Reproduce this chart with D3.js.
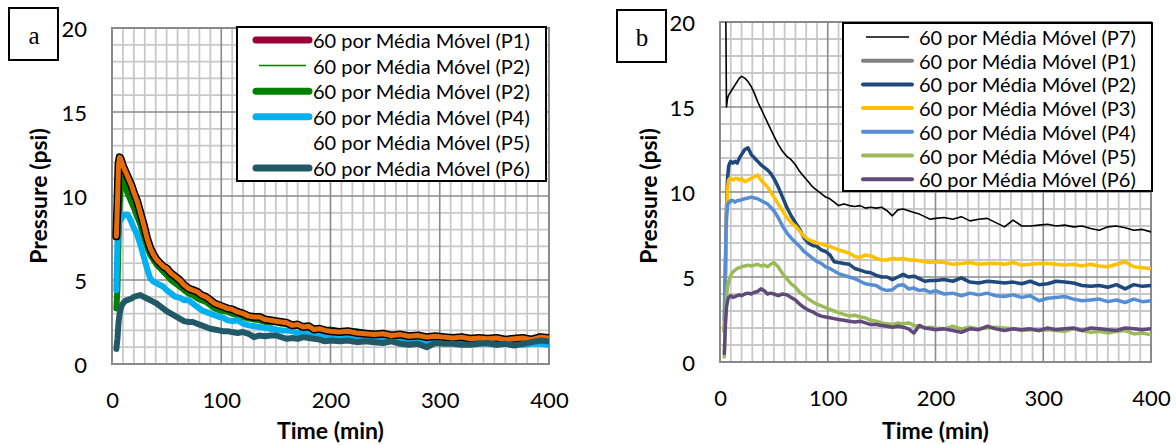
<!DOCTYPE html>
<html>
<head>
<meta charset="utf-8">
<script src="https://cdn.jsdelivr.net/npm/d3@7"></script>
<style>
  body { margin: 0; background: #fff; }
  svg { display: block; }
  text { font-family: Lato, "Open Sans", sans-serif; fill: #000; }
</style>
</head>
<body>
<svg id="chart" width="1176" height="445"></svg>
<script>
// ---- sampling times (min) ----
const timeMin = [4,5,6,7,8,9,10,12,14,16,18,20,23,26,29,32,35,38,41,44,47,50,54,58,62,66,70,74,78,82,86,90,94,98,
  102,106,110,115,120,125,130,135,140,145,150,155,160,165,170,175,180,185,190,195,200,
  208,216,224,232,240,248,256,264,272,280,288,296,304,312,320,328,336,344,352,360,368,376,384,392,400];

// ---- panel a: pressure (psi) ----
const aP5 = [7.6,9.6,11.9,12.3,12.2,12.0,11.8,11.5,11.2,10.9,10.6,10.2,9.7,9.0,8.3,7.5,6.9,6.5,6.2,6.0,5.8,5.7,5.4,5.2,5.0,4.7,4.5,4.4,4.3,4.1,4.0,3.8,3.6,3.5,
  3.4,3.3,3.25,3.1,3.0,2.85,2.8,2.8,2.65,2.6,2.55,2.5,2.45,2.3,2.35,2.2,2.25,2.05,2.1,2.0,1.95,
  1.9,1.95,1.85,1.8,1.75,1.8,1.7,1.75,1.65,1.7,1.6,1.65,1.6,1.55,1.6,1.5,1.55,1.5,1.55,1.45,1.5,1.55,1.45,1.6,1.55];
const aP1 = [7.5,9.5,11.8,12.2,12.1,11.9,11.7,11.4,11.1,10.8,10.5,10.1,9.6,8.9,8.2,7.4,6.8,6.4,6.1,5.9,5.7,5.6,5.3,5.1,4.9,4.6,4.4,4.3,4.2,4.0,3.9,3.7,3.5,3.4,
  3.3,3.2,3.2,3.05,2.95,2.8,2.75,2.75,2.6,2.55,2.5,2.45,2.4,2.25,2.3,2.15,2.2,2.0,2.05,1.95,1.9,
  1.85,1.9,1.8,1.75,1.7,1.75,1.65,1.7,1.6,1.65,1.55,1.6,1.55,1.5,1.55,1.45,1.5,1.45,1.5,1.4,1.45,1.5,1.4,1.55,1.5];
const aP2 = [3.3,4.5,7.5,9.5,10.5,10.9,11.0,10.6,10.2,9.9,9.6,9.3,8.8,8.3,7.6,7.0,6.5,6.2,5.9,5.7,5.5,5.3,5.0,4.8,4.6,4.4,4.2,4.1,3.9,3.8,3.7,3.5,3.3,3.2,
  3.15,3.1,3.0,2.9,2.8,2.7,2.65,2.6,2.5,2.45,2.5,2.4,2.45,2.35,2.3,2.2,2.2,2.1,2.05,2.0,2.05,
  1.95,1.9,1.95,1.85,1.8,1.75,1.7,1.65,1.6,1.6,1.55,1.5,1.5,1.45,1.45,1.4,1.45,1.4,1.35,1.4,1.35,1.3,1.25,1.3,1.3];
const aP4 = [4.4,7.2,8.2,8.5,8.6,8.7,8.8,8.9,8.9,8.7,8.4,8.1,7.7,7.1,6.4,5.7,5.1,4.9,4.8,4.7,4.6,4.4,4.2,4.0,3.95,3.8,3.8,3.6,3.4,3.2,3.1,3.0,2.9,2.8,
  2.75,2.6,2.55,2.6,2.4,2.3,2.25,2.2,2.15,2.1,2.05,2.0,2.0,1.95,1.85,1.9,1.8,1.75,1.7,1.7,1.65,
  1.6,1.55,1.6,1.5,1.5,1.45,1.45,1.4,1.4,1.35,1.35,1.3,1.25,1.3,1.25,1.2,1.25,1.2,1.15,1.2,1.2,1.15,1.2,1.2,1.15];
const aP6 = [0.9,1.5,2.5,3.0,3.3,3.5,3.6,3.75,3.8,3.85,3.9,4.0,4.05,4.1,4.0,3.9,3.8,3.7,3.6,3.45,3.3,3.15,3.0,2.85,2.7,2.55,2.5,2.5,2.4,2.3,2.2,2.1,2.05,2.0,
  1.95,1.95,1.9,1.85,1.9,1.8,1.6,1.7,1.65,1.7,1.7,1.6,1.5,1.55,1.5,1.6,1.55,1.5,1.45,1.35,1.4,
  1.35,1.4,1.3,1.35,1.3,1.25,1.35,1.2,1.15,1.2,1.0,1.25,1.2,1.2,1.15,1.15,1.2,1.25,1.15,1.2,1.1,1.2,1.3,1.4,1.35];

// ---- panel b: pressure (psi) ----
const bP7 = [null,24,15.0,15.5,15.7,15.8,15.9,16.1,16.3,16.5,16.7,16.8,16.7,16.5,16.2,15.8,15.3,14.9,14.5,14.1,13.7,13.3,12.8,12.4,12.1,11.9,11.6,11.2,10.9,10.6,10.3,10.1,9.9,9.7,
  9.6,9.4,9.2,9.3,9.2,9.15,9.2,9.05,9.1,9.05,9.1,8.9,8.6,8.95,9.0,8.9,8.8,8.7,8.55,8.4,8.45,
  8.5,8.4,8.55,8.3,8.4,8.45,8.2,7.95,8.35,8.0,8.0,8.05,8.1,8.0,8.05,7.95,8.0,7.85,7.75,7.95,8.0,7.9,7.75,7.8,7.65];
const bP1 = [];
const bP2 = [1.8,5.0,9.0,10.8,11.5,11.7,11.8,11.7,11.8,11.7,12.0,12.2,12.5,12.6,12.2,12.0,11.8,11.6,11.45,11.3,11.1,10.8,10.3,9.7,9.1,8.6,8.2,7.8,7.3,7.0,6.85,6.8,6.6,6.5,
  6.3,5.9,5.85,5.8,5.75,5.5,5.4,5.3,5.25,5.1,5.0,5.0,4.85,5.0,5.15,5.0,5.05,4.9,4.75,4.8,4.8,
  4.85,4.75,4.95,4.7,4.65,4.75,4.7,4.65,4.7,4.6,4.75,4.55,4.6,4.75,4.7,4.65,4.5,4.45,4.5,4.4,4.55,4.3,4.55,4.45,4.5];
const bP3 = [1.8,4.5,8.5,10.2,10.7,10.8,10.8,10.7,10.8,10.8,10.7,10.8,10.6,10.7,10.8,10.9,11.0,10.7,10.5,10.3,10.0,9.7,9.3,8.9,8.5,8.2,8.0,7.7,7.4,7.2,7.1,7.0,6.95,6.85,
  6.8,6.7,6.6,6.5,6.4,6.2,6.15,6.3,6.25,6.1,6.0,6.0,6.1,6.05,6.1,6.0,6.0,5.95,5.9,5.85,5.9,
  5.85,5.75,5.8,5.85,5.75,5.8,5.8,5.75,5.85,5.7,5.75,5.8,5.8,5.75,5.7,5.75,5.65,5.75,5.65,5.6,5.75,5.9,5.6,5.55,5.5];
const bP4 = [2.5,6.0,8.5,9.2,9.4,9.4,9.5,9.5,9.4,9.5,9.5,9.55,9.6,9.65,9.7,9.65,9.6,9.5,9.4,9.3,9.1,8.9,8.5,8.0,7.6,7.3,7.05,6.8,6.5,6.3,6.1,5.9,5.8,5.6,
  5.5,5.35,5.2,5.1,5.0,4.9,4.75,4.6,4.55,4.5,4.3,4.2,4.25,4.5,4.55,4.3,4.35,4.2,4.25,4.1,4.2,
  4.0,4.05,3.9,4.05,3.95,4.05,3.9,3.85,3.95,3.8,3.9,3.6,3.75,3.8,3.85,3.7,3.6,3.65,3.7,3.55,3.65,3.5,3.7,3.55,3.6];
const bP5 = [0.3,2.5,3.8,4.4,4.7,4.9,5.1,5.3,5.4,5.5,5.55,5.6,5.65,5.7,5.65,5.7,5.75,5.65,5.7,5.6,5.75,5.85,5.6,5.2,4.9,4.6,4.4,4.1,3.9,3.7,3.55,3.4,3.3,3.2,
  3.1,3.0,2.9,2.8,2.7,2.75,2.65,2.6,2.45,2.4,2.3,2.25,2.2,2.3,2.25,2.3,2.15,2.1,2.0,2.05,2.0,
  1.95,2.1,1.95,2.05,1.95,2.0,2.05,2.0,1.95,1.85,1.9,1.85,1.9,1.85,1.8,1.95,1.85,1.75,1.8,1.7,1.8,1.85,1.65,1.7,1.6];
const bP6 = [0.5,2.2,3.2,3.6,3.8,3.85,3.9,3.8,3.85,3.9,3.95,3.9,4.0,4.05,4.0,4.1,4.15,4.3,4.2,4.0,4.05,4.0,3.9,4.0,3.95,3.8,3.65,3.4,3.2,3.05,2.95,2.8,2.7,2.65,
  2.6,2.55,2.5,2.45,2.4,2.35,2.4,2.3,2.2,2.2,2.15,2.1,2.05,2.1,2.05,1.95,1.7,2.15,2.0,1.95,1.9,
  1.95,1.85,1.75,1.95,1.9,2.1,1.95,1.85,1.95,1.9,1.95,1.85,2.0,1.9,1.95,2.0,1.85,2.0,1.95,1.9,1.85,2.0,1.95,1.9,1.95];

// ---- axis ticks ----
const xTicks = [0, 100, 200, 300, 400];
const yTicks = [0, 5, 10, 15, 20];
const label = "60 por Média Móvel";

const seriesA = [
  { key: "P1", values: aP1, color: "#990033", width: 6 },
  { key: "P2", values: aP2, color: "#008000", width: 1.5 },
  { key: "P2", values: aP2, color: "#008000", width: 6 },
  { key: "P4", values: aP4, color: "#00B0F0", width: 6 },
  { key: "P5", values: aP5, color: "#E46C0A", width: 5, outline: "#000", noSwatch: true },
  { key: "P6", values: aP6, color: "#215967", width: 6 }
];
const seriesB = [
  { key: "P7", values: bP7, color: "#000000", width: 1.6 },
  { key: "P1", values: bP1, color: "#808080", width: 3.5 },
  { key: "P2", values: bP2, color: "#1F497D", width: 3.5 },
  { key: "P3", values: bP3, color: "#FFC000", width: 3.5 },
  { key: "P4", values: bP4, color: "#558ED5", width: 3.5 },
  { key: "P5", values: bP5, color: "#9BBB59", width: 3.5 },
  { key: "P6", values: bP6, color: "#604A7B", width: 3.5 }
];

const svg = d3.select("#chart");

function panel(cfg) {
  const x = d3.scaleLinear().domain([0, 400]).range([cfg.left, cfg.right]);
  const y = d3.scaleLinear().domain([0, 20]).range([cfg.bottom, cfg.top]);
  const g = svg.append("g");
  const w = cfg.right - cfg.left, h = cfg.bottom - cfg.top;

  // minor grid
  g.append("g").selectAll("line").data(d3.range(10, 400, 10).filter(v => v % 100))
    .join("line").attr("x1", x).attr("x2", x).attr("y1", cfg.top).attr("y2", cfg.bottom)
    .attr("stroke", "#c8c8c8").attr("stroke-width", 1.8);
  g.append("g").selectAll("line").data(d3.range(1, 20, 1).filter(v => v % 5))
    .join("line").attr("y1", y).attr("y2", y).attr("x1", cfg.left).attr("x2", cfg.right)
    .attr("stroke", "#c8c8c8").attr("stroke-width", 1.8);
  // major grid
  g.append("g").selectAll("line").data([100, 200, 300])
    .join("line").attr("x1", x).attr("x2", x).attr("y1", cfg.top).attr("y2", cfg.bottom)
    .attr("stroke", "#8a8a8a").attr("stroke-width", 1.6);
  g.append("g").selectAll("line").data([5, 10, 15])
    .join("line").attr("y1", y).attr("y2", y).attr("x1", cfg.left).attr("x2", cfg.right)
    .attr("stroke", "#8a8a8a").attr("stroke-width", 1.6);
  g.append("rect").attr("x", cfg.left).attr("y", cfg.top).attr("width", w).attr("height", h)
    .attr("fill", "none").attr("stroke", "#8a8a8a").attr("stroke-width", 2);

  // tick labels
  const xa = g.append("g").attr("transform", `translate(0,${cfg.bottom + 35})`)
    .call(d3.axisBottom(x).tickValues(xTicks).tickSize(0).tickPadding(0));
  xa.select(".domain").remove();
  xa.selectAll("text").attr("font-size", 22).attr("dy", null).attr("dominant-baseline", "central")
    .attr("fill", "#000");
  const ya = g.append("g").attr("transform", `translate(${cfg.left - 25},0)`)
    .call(d3.axisLeft(y).tickValues(yTicks).tickSize(0).tickPadding(0));
  ya.select(".domain").remove();
  ya.selectAll("text").attr("font-size", 22).attr("dy", null).attr("dominant-baseline", "central")
    .attr("fill", "#000");

  // axis titles
  g.append("text").attr("x", (cfg.left + cfg.right) / 2).attr("y", 430)
    .attr("text-anchor", "middle").attr("dominant-baseline", "central")
    .attr("font-size", 23).attr("font-weight", 700).text("Time (min)");
  g.append("text").attr("transform", `translate(${cfg.ytitleX},196) rotate(-90)`)
    .attr("text-anchor", "middle").attr("dominant-baseline", "central")
    .attr("font-size", 23).attr("font-weight", 700).text("Pressure (psi)");

  // series
  const clipId = "clip-" + cfg.id;
  svg.append("clipPath").attr("id", clipId).append("rect")
    .attr("x", cfg.left).attr("y", cfg.top).attr("width", w).attr("height", h);
  const plot = g.append("g").attr("clip-path", `url(#${clipId})`);
  const line = d3.line().defined(d => d[1] != null).x(d => x(d[0])).y(d => y(d[1]));
  cfg.series.forEach(s => {
    if (!s.values.length) return;
    const pts = timeMin.map((t, i) => [t, s.values[i]]);
    if (s.outline) {
      plot.append("path").attr("d", line(pts)).attr("fill", "none")
        .attr("stroke", s.outline).attr("stroke-width", s.width + 3)
        .attr("stroke-linejoin", "round").attr("stroke-linecap", "round");
    }
    plot.append("path").attr("d", line(pts)).attr("fill", "none")
      .attr("stroke", s.color).attr("stroke-width", s.width)
      .attr("stroke-linejoin", "round").attr("stroke-linecap", "round");
  });

  // legend
  const L = cfg.legend;
  g.append("rect").attr("x", L.x0).attr("y", L.y0).attr("width", L.x1 - L.x0).attr("height", L.y1 - L.y0)
    .attr("fill", "#fff").attr("stroke", "#000").attr("stroke-width", 2);
  cfg.series.forEach((s, i) => {
    const yy = L.row0 + i * L.step;
    if (!s.noSwatch) {
      const thin = s.width < 3;
      g.append("line").attr("x1", L.sx0 + (thin ? 3 : 0)).attr("x2", L.sx1 - (thin ? 3 : 0))
        .attr("y1", yy).attr("y2", yy).attr("stroke", s.color)
        .attr("stroke-width", thin ? s.width : L.swatchW).attr("stroke-linecap", thin ? "butt" : "round");
    }
    g.append("text").attr("x", L.tx).attr("y", yy).attr("dominant-baseline", "central")
      .attr("font-size", 20).text(`${label} (${s.key})`);
  });

  // panel tag
  g.append("rect").attr("x", cfg.tag.x).attr("y", cfg.tag.y).attr("width", 49).attr("height", 52)
    .attr("fill", "#fff").attr("stroke", "#000").attr("stroke-width", 2);
  g.append("text").attr("x", cfg.tag.x + 25).attr("y", cfg.tag.y + 27)
    .attr("text-anchor", "middle").attr("dominant-baseline", "central")
    .style("font-family", "'Liberation Serif', 'DejaVu Serif', serif").attr("font-size", 25)
    .text(cfg.tag.text);
}

panel({
  id: "a", left: 112, right: 549, top: 28, bottom: 364, ytitleX: 38,
  series: seriesA,
  legend: { x0: 237, x1: 546, y0: 27, y1: 181, row0: 40, step: 25.6, sx0: 256, sx1: 309, tx: 313, swatchW: 7 },
  tag: { x: 9, y: 8, text: "a" }
});
panel({
  id: "b", left: 720, right: 1151, top: 22, bottom: 362, ytitleX: 648,
  series: seriesB,
  legend: { x0: 843, x1: 1152, y0: 23, y1: 191, row0: 37, step: 23.7, sx0: 863, sx1: 912, tx: 919, swatchW: 4 },
  tag: { x: 617, y: 10, text: "b" }
});
</script>
</body>
</html>
